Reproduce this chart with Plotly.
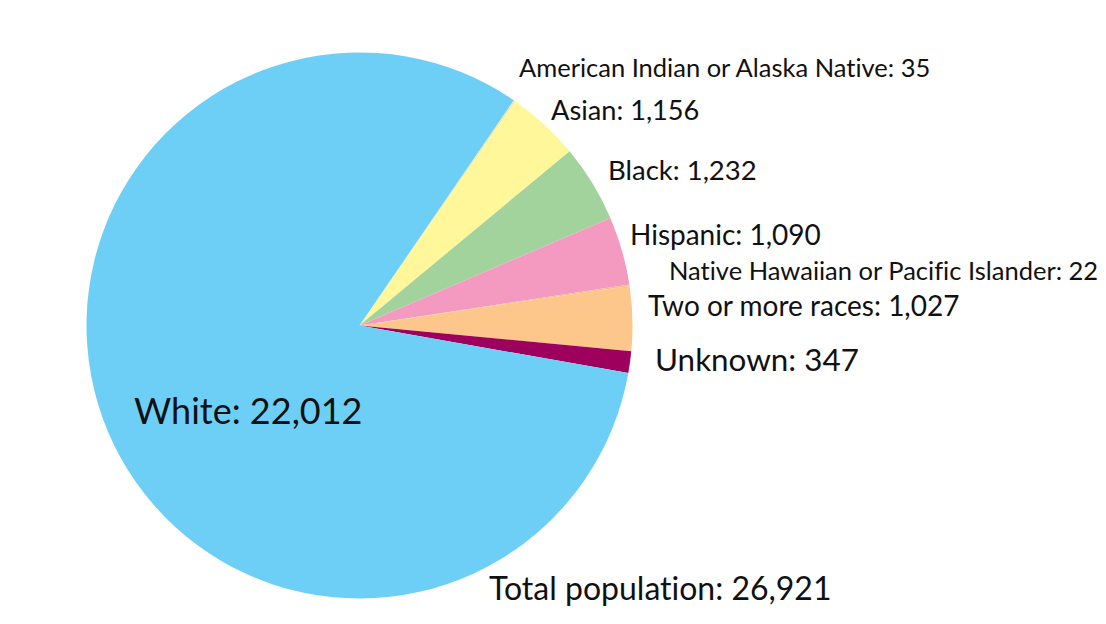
import plotly.graph_objects as go

categories = ["American Indian or Alaska Native", "Asian", "Black", "Hispanic",
              "Native Hawaiian or Pacific Islander", "Two or more races", "Unknown", "White"]
values = [35, 1156, 1232, 1090, 22, 1027, 347, 22012]
colors = ["#F7E8A0", "#FFF799", "#A3D39C", "#F49AC1", "#F9B98A", "#FDC68A", "#9E005D", "#6DCFF6"]
total_label = "Total population"

W, H = 1106, 624
OFF = 8  # page body margin
FONT = "Lato"

def fx(px):
    return (px - OFF) / W

def fy(py):
    return 1 - (py - OFF) / H

CX, CY, R = 359.5, 325.5, 273

fig = go.Figure(go.Pie(
    labels=categories, values=values, sort=False, direction="clockwise",
    rotation=34.4, marker=dict(colors=colors, line=dict(width=0)),
    textinfo="none", hoverinfo="label+value", showlegend=False,
    domain=dict(x=[fx(CX - R), fx(CX + R)], y=[fy(CY + R), fy(CY - R)]),
))

# label placement: (left px, center px, font size)
label_pos = {
    "American Indian or Alaska Native": (517, 67, 25.5),
    "Asian": (549, 110, 27.2),
    "Black": (606, 170, 27.5),
    "Hispanic": (628, 234, 28),
    "Native Hawaiian or Pacific Islander": (667, 270, 25.5),
    "Two or more races": (646, 305, 28),
    "Unknown": (653, 359, 31.4),
    "White": (132, 410, 36),
}

def add_label(text, px, py, size):
    fig.add_annotation(x=fx(px), y=fy(py), xref="paper", yref="paper",
                       text=f'<span style="font-variant-ligatures:none">{text}</span>',
                       showarrow=False, xanchor="left", yanchor="middle",
                       font=dict(family=FONT, size=size, color="#111111"))

for cat, val in zip(categories, values):
    px, py, size = label_pos[cat]
    add_label(f"{cat}: {val:,}", px, py, size)

add_label(f"{total_label}: {sum(values):,}", 487, 587, 32)

fig.update_layout(width=W, height=H, margin=dict(l=0, r=0, t=0, b=0),
                  paper_bgcolor="white", plot_bgcolor="white")
fig.write_html("out.html")
